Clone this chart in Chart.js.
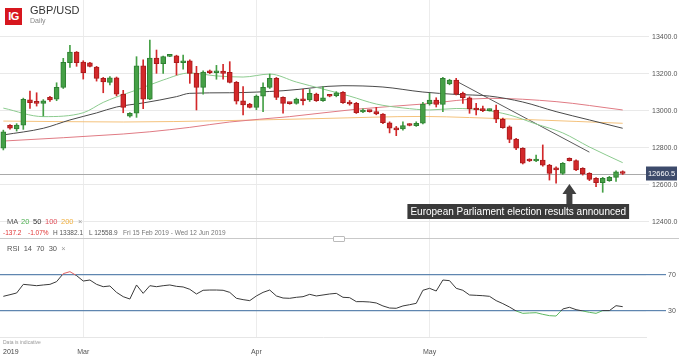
<!DOCTYPE html>
<html>
<head>
<meta charset="utf-8">
<title>GBP/USD Daily</title>
<script src="https://cdn.jsdelivr.net/npm/chart.js@4.4.1/dist/chart.umd.min.js"></script>
<style>
body { margin: 0; background: #fff; font-family: "Liberation Sans", Arial, sans-serif; }
#wrap { position: relative; width: 679px; height: 357px; overflow: hidden; background: #fff; }
.pane { position: absolute; left: 0; width: 679px; }
#pricePane { top: 0; height: 238px; }
#rsiPane { top: 238px; height: 119px; }
.t { position: absolute; white-space: nowrap; line-height: 1; }
#logo { position: absolute; left: 5px; top: 8px; width: 17px; height: 17px; background: #d7161e; color: #fff;
        font: bold 11px "Liberation Sans", Arial, sans-serif; text-align: center; line-height: 17px; letter-spacing: -0.5px; }
#sep { position: absolute; left: 0; top: 238px; width: 679px; height: 1px; background: #c9c9c9; }
#grip { position: absolute; left: 333px; top: 236px; width: 10px; height: 4px; border: 1px solid #bbb; background: #fff; border-radius: 1px; }
</style>
</head>
<body>
<div id="wrap">
  <div class="pane" id="pricePane"><canvas id="priceChart"></canvas></div>
  <div class="pane" id="rsiPane"><canvas id="rsiChart"></canvas></div>
  <div id="sep"></div>
  <div id="grip"></div>

  <div id="logo">IG</div>
  <div class="t" style="left:30px;top:5px;font-size:11px;color:#333;">GBP/USD</div>
  <div class="t" style="left:30px;top:17px;font-size:7px;color:#888;">Daily</div>

  <div class="t" style="left:7px;top:218px;font-size:7.5px;color:#555;">MA</div>
  <div class="t" style="left:21px;top:218px;font-size:7.5px;color:#4caf50;">20</div>
  <div class="t" style="left:33px;top:218px;font-size:7.5px;color:#333;">50</div>
  <div class="t" style="left:45px;top:218px;font-size:7.5px;color:#e0505a;">100</div>
  <div class="t" style="left:61px;top:218px;font-size:7.5px;color:#f0b040;">200</div>
  <div class="t" style="left:78px;top:218px;font-size:7.5px;color:#999;">&times;</div>

  <div class="t" style="left:3px;top:230px;font-size:6.5px;color:#e03030;">-137.2</div>
  <div class="t" style="left:28px;top:230px;font-size:6.5px;color:#e03030;">-1.07%</div>
  <div class="t" style="left:53px;top:230px;font-size:6.5px;color:#555;">H 13382.1</div>
  <div class="t" style="left:89px;top:230px;font-size:6.5px;color:#555;">L 12558.9</div>
  <div class="t" style="left:123px;top:230px;font-size:6.5px;color:#777;">Fri 15 Feb 2019 - Wed 12 Jun 2019</div>

  <div class="t" style="left:7px;top:245px;font-size:7.5px;color:#555;">RSI&nbsp; 14&nbsp; 70&nbsp; 30&nbsp; <span style="color:#999">&times;</span></div>

  <div class="t" style="left:3px;top:340px;font-size:5px;color:#999;">Data is indicative</div>
  <div class="t" style="left:3px;top:348px;font-size:7px;color:#444;">2019</div>
</div>

<script>
// trading days shown (Sunday sessions included), last three are empty space
const feb = [15, 17, 18, 19, 20, 21, 22, 24, 25, 26, 27, 28];
const mar = [1, 3, 4, 5, 6, 7, 8, 10, 11, 12, 13, 14, 15, 17, 18, 19, 20, 21, 22, 24, 25, 26, 27, 28, 29, 31];
const apr = [1, 2, 3, 4, 5, 7, 8, 9, 10, 11, 12, 14, 15, 16, 17, 18, 19, 21, 22, 23, 24, 25, 26, 28, 29, 30];
const may = [1, 2, 3, 5, 6, 7, 8, 9, 10, 12, 13, 14, 15, 16, 17, 19, 20, 21, 22, 23, 24, 26, 27, 28, 29, 30, 31];
const jun = [2, 3, 4, 5, 6, 7];
const dates = [
    ...feb.map(d => 'Feb ' + d), ...mar.map(d => 'Mar ' + d),
    ...apr.map(d => 'Apr ' + d), ...may.map(d => 'May ' + d), ...jun.map(d => 'Jun ' + d)
];
const monthTicks = { 'Mar 1': 'Mar', 'Apr 1': 'Apr', 'May 1': 'May' };

const opens = [12797, 12921, 12901, 12922, 13059, 13047, 13040, 13072, 13062, 13126, 13259, 13317,
    13263, 13259, 13236, 13175, 13153, 13178, 13090, 12971, 12986, 13243, 13062, 13285, 13254, 13294, 13296, 13259,
    13269, 13202, 13126, 13216, 13205, 13214, 13207, 13153, 13054, 13036,
    13018, 13079, 13126, 13175, 13072, 13042, 13040, 13063, 13058, 13090, 13054, 13082, 13081, 13099, 13047, 13040,
    12993, 13000, 12995, 12982, 12935, 12905, 12901, 12927, 12919, 12932,
    13036, 13058, 13034, 13145, 13166, 13094, 13070, 13013, 13010, 13000, 13004, 12954, 12913, 12847, 12797, 12737,
    12728, 12733, 12706, 12685, 12661, 12743, 12730, 12689, 12661, 12635, 12611, 12622, 12640, 12670];
const highs = [12895, 12925, 12930, 13068, 13106, 13097, 13060, 13078, 13151, 13283, 13353, 13320,
    13270, 13262, 13240, 13180, 13185, 13182, 13110, 12990, 13292, 13275, 13382, 13328, 13295, 13300, 13300, 13300,
    13275, 13240, 13215, 13220, 13245, 13250, 13265, 13158, 13130, 13040,
    13085, 13150, 13198, 13180, 13075, 13045, 13068, 13116, 13115, 13095, 13130, 13085, 13103, 13103, 13055, 13045,
    13010, 13003, 13018, 12985, 12940, 12915, 12940, 12930, 12940, 13045,
    13094, 13070, 13180, 13170, 13175, 13100, 13075, 13040, 13025, 13010, 13030, 12960, 12918, 12850, 12800, 12740,
    12760, 12815, 12710, 12697, 12720, 12745, 12735, 12692, 12665, 12638, 12640, 12645, 12675, 12675];
const lows = [12788, 12900, 12890, 12899, 13013, 13025, 12971, 13050, 13054, 13120, 13234, 13240,
    13171, 13236, 13160, 13097, 13140, 13080, 12989, 12965, 12964, 13011, 13060, 13202, 13202, 13292, 13193, 13224,
    13148, 13004, 13090, 13200, 13170, 13170, 13150, 13036, 12977, 13015,
    13005, 12995, 13120, 13060, 12986, 13035, 13035, 13031, 13050, 13050, 13050, 13075, 13075, 13040, 13030, 12985,
    12990, 12992, 12978, 12930, 12880, 12865, 12895, 12918, 12915, 12928,
    13030, 13020, 12995, 13140, 13085, 13040, 12986, 12977, 12995, 12998, 12935, 12905, 12827, 12790, 12712, 12725,
    12725, 12700, 12625, 12608, 12655, 12728, 12676, 12652, 12622, 12589, 12559, 12618, 12618, 12655];
const closes = [12886, 12905, 12922, 13062, 13043, 13040, 13054, 13058, 13126, 13262, 13317, 13259,
    13205, 13240, 13175, 13155, 13178, 13090, 13018, 12986, 13243, 13062, 13285, 13254, 13292, 13298, 13259, 13264,
    13202, 13126, 13209, 13205, 13216, 13202, 13153, 13052, 13031, 13018,
    13079, 13126, 13175, 13072, 13040, 13038, 13063, 13054, 13094, 13054, 13070, 13078, 13097, 13043, 13036, 12989,
    13004, 12995, 12982, 12935, 12905, 12896, 12919, 12920, 12932, 13036,
    13058, 13034, 13175, 13166, 13090, 13070, 13009, 13004, 13000, 13006, 12954, 12908, 12845, 12797, 12716, 12728,
    12738, 12706, 12661, 12680, 12716, 12730, 12680, 12658, 12629, 12611, 12635, 12640, 12670, 12660.5];

// moving averages read at a few candles: [candle index, value]
const ma20 = [[0, 13014], [6, 12968], [12, 12989], [15, 13045], [17, 13074], [20, 13112], [24, 13166], [28, 13204],
    [32, 13188], [36, 13182], [40, 13198], [44, 13155], [48, 13117], [52, 13079], [56, 13036], [60, 13015], [64, 13004],
    [68, 13012], [72, 13004], [76, 12977], [80, 12928], [84, 12880], [88, 12804], [93, 12719]];
const ma50 = [[0, 12869], [6, 12905], [10, 12950], [14, 12988], [17, 13020], [21, 13042], [26, 13076], [28, 13094],
    [34, 13097], [42, 13108], [51, 13135], [57, 13128], [63, 13101], [68, 13088], [73, 13079], [78, 13047], [83, 12995],
    [88, 12950], [93, 12905]];
const ma100 = [[0, 12836], [18, 12874], [22, 12886], [28, 12910], [34, 12939], [43, 12968], [53, 13008], [63, 13036],
    [73, 13067], [83, 13049], [93, 13004]];
const ma200 = [[0, 12944], [18, 12939], [33, 12946], [48, 12958], [63, 12969], [70, 12963], [78, 12953], [86, 12942],
    [93, 12932]];
const trendLine = [[68, 13160], [88, 12776]];

const rsi = [46.3, 48.1, 50.0, 59.6, 58.9, 58.1, 58.9, 59.6, 62.6, 71.5, 73.7, 69.3,
    63.3, 64.4, 59.6, 57.0, 57.8, 50.7, 45.9, 43.3, 58.9, 49.6, 58.1, 57.0, 58.1, 58.9, 57.4, 56.7,
    54.1, 48.9, 53.0, 53.3, 53.3, 53.0, 50.7, 44.1, 42.6, 41.5,
    46.7, 50.7, 53.3, 46.7, 44.4, 44.1, 45.2, 45.9, 48.5, 46.7, 47.8, 48.9, 49.6, 45.2, 44.8, 40.4,
    40.4, 40.0, 38.9, 35.6, 33.3, 33.0, 35.6, 37.0, 38.5, 53.0,
    55.2, 52.2, 64.4, 63.7, 55.2, 53.0, 47.8, 47.4, 47.0, 46.3, 41.5, 38.2, 34.4, 30.0, 27.4, 27.8,
    28.1, 26.3, 24.8, 24.4, 32.2, 34.1, 31.5, 30.0, 28.5, 27.4, 30.4, 30.4, 35.9, 34.8];

const priceTicks = [12400, 12600, 12800, 13000, 13200, 13400];
const rsiTicks = [30, 70];
const lastPrice = 12660.5;
const annotationDate = 'May 26';
const annotationText = 'European Parliament election results announced';

const upColor = '#45a046', upEdge = '#2f7f32';
const downColor = '#d3282a', downEdge = '#a81c1e';
const isUp = closes.map((c, i) => c >= opens[i]);
const pairs = arr => arr.map(p => ({ x: dates[p[0]], y: p[1] }));
const monthIdx = dates.map((d, i) => (monthTicks[d] ? i : -1)).filter(i => i >= 0);

function fixAxis(width, height) {
    return function(scale) {
        if (width !== undefined) scale.width = width;
        if (height !== undefined) scale.height = height;
        scale.paddingTop = 0; scale.paddingBottom = 0;
        scale.paddingLeft = 0; scale.paddingRight = 0;
    };
}
const monthGrid = {
    offset: false,
    drawTicks: false,
    color: ctx => (monthIdx.includes(ctx.index) ? '#ececec' : 'rgba(0,0,0,0)')
};

const priceOverlay = {
    id: 'priceOverlay',
    beforeDatasetsDraw(chart) {
        const { ctx, chartArea, scales } = chart;
        const y = Math.round(scales.y.getPixelForValue(lastPrice)) + 0.5;
        ctx.save();
        ctx.strokeStyle = '#a9a9a9';
        ctx.lineWidth = 1;
        ctx.beginPath();
        ctx.moveTo(chartArea.left, y);
        ctx.lineTo(chartArea.right, y);
        ctx.stroke();
        ctx.restore();
    },
    afterDatasetsDraw(chart) {
        const { ctx, chartArea, scales } = chart;
        ctx.save();
        // last price tag on the axis
        const y = scales.y.getPixelForValue(lastPrice);
        ctx.fillStyle = '#3d4b6b';
        ctx.fillRect(chartArea.right, y - 7, 31, 14);
        ctx.fillStyle = '#fff';
        ctx.font = '7.5px "Liberation Sans", Arial, sans-serif';
        ctx.textAlign = 'center';
        ctx.textBaseline = 'middle';
        ctx.fillText(lastPrice.toFixed(1), chartArea.right + 15.5, y + 0.5);

        // event arrow and caption
        const ax = scales.x.getPixelForValue(dates.indexOf(annotationDate));
        ctx.fillStyle = '#404040';
        ctx.beginPath();
        ctx.moveTo(ax, 184);
        ctx.lineTo(ax + 7, 194);
        ctx.lineTo(ax + 3, 194);
        ctx.lineTo(ax + 3, 204);
        ctx.lineTo(ax - 3, 204);
        ctx.lineTo(ax - 3, 194);
        ctx.lineTo(ax - 7, 194);
        ctx.closePath();
        ctx.fill();
        ctx.font = '10px "Liberation Sans", Arial, sans-serif';
        const w = ctx.measureText(annotationText).width + 6;
        const bx = ax - 162;
        ctx.fillStyle = '#3a3a3a';
        ctx.fillRect(bx, 204, w, 15);
        ctx.fillStyle = '#fff';
        ctx.textAlign = 'left';
        ctx.textBaseline = 'middle';
        ctx.fillText(annotationText, bx + 3, 212);
        ctx.restore();
    }
};

const maLine = (data, color, order) => ({
    type: 'line', data: pairs(data), borderColor: color, borderWidth: 1, pointRadius: 0,
    cubicInterpolationMode: 'monotone', order: order
});

new Chart(document.getElementById('priceChart'), {
    type: 'bar',
    data: {
        labels: dates,
        datasets: [
            {
                data: opens.map((o, i) => [Math.min(o, closes[i]), Math.max(o, closes[i])]),
                backgroundColor: isUp.map(u => (u ? upColor : downColor)),
                borderColor: isUp.map(u => (u ? upEdge : downEdge)),
                borderWidth: 1, borderSkipped: false, barThickness: 5, minBarLength: 2,
                grouped: false, order: 0
            },
            {
                data: lows.map((l, i) => [l, highs[i]]),
                backgroundColor: isUp.map(u => (u ? upColor : downColor)),
                borderWidth: 0, barThickness: 1, grouped: false, order: 1
            },
            maLine(ma20, '#8ccb8f', 2),
            maLine(ma50, '#4a4a4a', 3),
            maLine(ma100, '#e07b84', 4),
            maLine(ma200, '#f4c27c', 5),
            { type: 'line', data: pairs(trendLine), borderColor: '#5a5a5a', borderWidth: 1, pointRadius: 0, order: 6 }
        ]
    },
    options: {
        responsive: true,
        maintainAspectRatio: false,
        animation: false,
        layout: { padding: 0 },
        plugins: { legend: { display: false }, tooltip: { enabled: false } },
        scales: {
            x: {
                ticks: { display: false, autoSkip: false },
                grid: monthGrid,
                border: { display: false },
                afterFit: fixAxis(undefined, 0)
            },
            y: {
                position: 'right',
                min: 12311.9,
                max: 13598.4,
                afterBuildTicks: s => { s.ticks = priceTicks.map(v => ({ value: v })); },
                ticks: {
                    callback: v => Number(v).toFixed(1),
                    font: { size: 7, family: '"Liberation Sans", Arial, sans-serif' },
                    color: '#555', padding: 3
                },
                grid: { color: '#e9e9e9', tickLength: 3 },
                border: { display: false },
                afterFit: fixAxis(33)
            }
        }
    },
    plugins: [priceOverlay]
});

new Chart(document.getElementById('rsiChart'), {
    type: 'line',
    data: {
        labels: dates,
        datasets: [{
            data: rsi,
            borderWidth: 1,
            pointRadius: 0,
            borderColor: ctx => {
                const { chart } = ctx;
                const { chartArea, scales } = chart;
                if (!chartArea) return '#333';
                const top = chartArea.top, h = chartArea.bottom - chartArea.top;
                const f70 = (scales.y.getPixelForValue(70) - top) / h;
                const f30 = (scales.y.getPixelForValue(30) - top) / h;
                const g = chart.ctx.createLinearGradient(0, top, 0, chartArea.bottom);
                g.addColorStop(0, '#e06060');
                g.addColorStop(f70, '#e06060');
                g.addColorStop(f70, '#3a3a3a');
                g.addColorStop(f30, '#3a3a3a');
                g.addColorStop(f30, '#5cb860');
                g.addColorStop(1, '#5cb860');
                return g;
            }
        }]
    },
    options: {
        responsive: true,
        maintainAspectRatio: false,
        animation: false,
        layout: { padding: 0 },
        plugins: { legend: { display: false }, tooltip: { enabled: false } },
        scales: {
            x: {
                offset: true,
                ticks: {
                    autoSkip: false, maxRotation: 0, padding: 11,
                    callback: (v, i) => monthTicks[dates[i]] || '',
                    font: { size: 7, family: '"Liberation Sans", Arial, sans-serif' },
                    color: '#555'
                },
                grid: monthGrid,
                border: { display: true, color: '#e6e6e6' },
                afterFit: fixAxis(undefined, 20)
            },
            y: {
                position: 'right',
                min: 1.1,
                max: 111.1,
                afterBuildTicks: s => { s.ticks = rsiTicks.map(v => ({ value: v })); },
                ticks: {
                    font: { size: 7, family: '"Liberation Sans", Arial, sans-serif' },
                    color: '#555', padding: 2
                },
                grid: { color: '#5f86b0', lineWidth: 1.2, tickLength: 20 },
                border: { display: false },
                afterFit: fixAxis(33)
            }
        }
    }
});
</script>
</body>
</html>
